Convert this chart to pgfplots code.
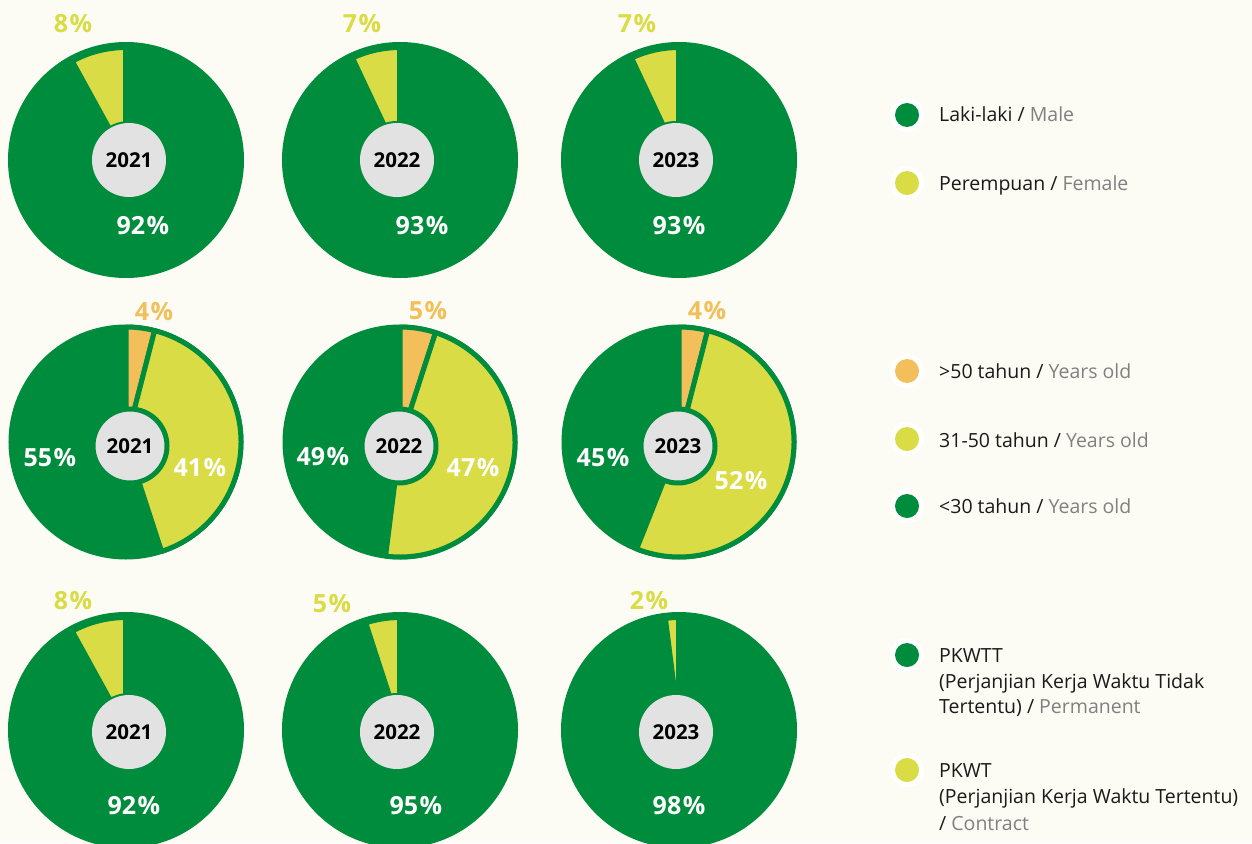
\documentclass[border=0pt]{standalone}
\usepackage{fontspec}
\setmainfont{Open Sans}
\usepackage{pgfplots}
\usepackage{pgfplotstable}
\pgfplotsset{compat=1.18}
\definecolor{pgreen}{HTML}{008C3D}
\definecolor{pyellow}{HTML}{D9DC45}
\definecolor{porange}{HTML}{F2BF5B}
\definecolor{pgray}{HTML}{E2E2E2}
\definecolor{bgc}{HTML}{FCFCF5}
\definecolor{lgray}{HTML}{808080}
\definecolor{ltext}{HTML}{1A1A1A}

\pgfplotstableread{
year male female
2021 92 8
2022 93 7
2023 93 7
}\gendertab
\pgfplotstableread{
year over50 mid under30
2021 4 41 55
2022 5 47 49
2023 4 52 45
}\agetab
\pgfplotstableread{
year permanent contract
2021 92 8
2022 95 5
2023 98 2
}\statustab

\newcommand\getv[4]{\pgfplotstablegetelem{#2}{#3}\of{#1}\edef#4{\pgfplotsretval}}
% cx, cy, start angle, signed percent, radius, fill, line width
\newcommand\pieslice[7]{%
  \pgfmathsetmacro\psend{#3+3.6*(#4)}%
  \edef\tmp{\noexpand\filldraw[fill=#6,draw=pgreen,line width=#7pt,line join=round] (axis cs:#1,#2) -- ++(#3:#5pt) arc[start angle=#3,end angle=\psend,radius=#5pt] -- cycle;}\tmp}
\newcommand\txt[4]{\edef\tmp{\noexpand\node[#3] at (axis cs:#1,#2) {#4};}\tmp}
\newcommand\pc{\noexpand\kern1.5pt\noexpand\%}
% gender-type pie: cx cy gx gy value year
\newcommand\gpie[6]{%
  \edef\tmp{\noexpand\fill[pgreen] (axis cs:#1,#2) circle[radius=118pt];}\tmp
  \pieslice{#1}{#2}{90}{#5}{113}{pyellow}{6}%
  \edef\tmp{\noexpand\fill[pgreen] (axis cs:#3,#4) circle[radius=39pt];}\tmp
  \edef\tmp{\noexpand\fill[pgray] (axis cs:#3,#4) circle[radius=37pt];}\tmp
  \txt{#3}{#4}{yr}{#6}}
% age pie: cx cy gx gy over50 mid year
\newcommand\apie[7]{%
  \edef\tmp{\noexpand\filldraw[fill=pgreen,draw=pgreen,line width=5pt] (axis cs:#1,#2) circle[radius=115pt];}\tmp
  \pgfmathsetmacro\sB{90-3.6*#5}%
  \pieslice{#1}{#2}{90}{-#5}{115}{porange}{5}%
  \pieslice{#1}{#2}{\sB}{-#6}{115}{pyellow}{5}%
  \edef\tmp{\noexpand\filldraw[fill=pgray,draw=pgreen,line width=5pt] (axis cs:#3,#4) circle[radius=37pt];}\tmp
  \txt{#3}{#4}{yr}{#7}}

\begin{document}
\begin{tikzpicture}[
  pct/.style={font=\fontsize{25}{30}\selectfont\bfseries, inner sep=0pt, anchor=center},
  yr/.style={font=\fontsize{20.5}{24}\selectfont\bfseries, text=black, inner sep=0pt, anchor=center},
  lg/.style={font=\fontsize{19.5}{24}\selectfont, text=ltext, inner sep=0pt, anchor=base west}]
\useasboundingbox (0,0) rectangle (1252pt,843pt);
\clip (0,0) rectangle (1252pt,843pt);
\fill[bgc] (0,0) rectangle (1252pt,843pt);
\begin{axis}[hide axis, x=1pt, y=1pt, xmin=0, xmax=1252, ymin=0, ymax=843,
  y dir=reverse, at={(0,0)}, anchor=south west, clip=false]

% ---- row 1: gender
\getv{\gendertab}{0}{female}\vf \getv{\gendertab}{0}{male}\vm \getv{\gendertab}{0}{year}\vy
\gpie{126}{160}{129}{160}{\vf}{\vy}
\txt{73}{24}{pct,text=pyellow}{\vf\pc}
\txt{143}{226}{pct,text=white}{\vm\pc}
\getv{\gendertab}{1}{female}\vf \getv{\gendertab}{1}{male}\vm \getv{\gendertab}{1}{year}\vy
\gpie{400}{160}{397}{160}{\vf}{\vy}
\txt{362}{24}{pct,text=pyellow}{\vf\pc}
\txt{422}{226}{pct,text=white}{\vm\pc}
\getv{\gendertab}{2}{female}\vf \getv{\gendertab}{2}{male}\vm \getv{\gendertab}{2}{year}\vy
\gpie{679}{160}{676}{160}{\vf}{\vy}
\txt{637}{24}{pct,text=pyellow}{\vf\pc}
\txt{679}{226}{pct,text=white}{\vm\pc}

% ---- row 2: age
\getv{\agetab}{0}{over50}\va \getv{\agetab}{0}{mid}\vb \getv{\agetab}{0}{under30}\vc \getv{\agetab}{0}{year}\vy
\apie{126}{442}{130}{446}{\va}{\vb}{\vy}
\txt{154}{312}{pct,text=porange}{\va\pc}
\txt{50}{458}{pct,text=white}{\vc\pc}
\txt{200}{468}{pct,text=white}{\vb\pc}
\getv{\agetab}{1}{over50}\va \getv{\agetab}{1}{mid}\vb \getv{\agetab}{1}{under30}\vc \getv{\agetab}{1}{year}\vy
\apie{400}{442}{399}{446}{\va}{\vb}{\vy}
\txt{428}{311}{pct,text=porange}{\va\pc}
\txt{323}{457}{pct,text=white}{\vc\pc}
\txt{473}{468}{pct,text=white}{\vb\pc}
\getv{\agetab}{2}{over50}\va \getv{\agetab}{2}{mid}\vb \getv{\agetab}{2}{under30}\vc \getv{\agetab}{2}{year}\vy
\apie{679}{442}{678}{446}{\va}{\vb}{\vy}
\txt{707}{311}{pct,text=porange}{\va\pc}
\txt{603}{458}{pct,text=white}{\vc\pc}
\txt{741}{481}{pct,text=white}{\vb\pc}

% ---- row 3: employment status
\getv{\statustab}{0}{contract}\vf \getv{\statustab}{0}{permanent}\vm \getv{\statustab}{0}{year}\vy
\gpie{126}{730}{129}{732}{\vf}{\vy}
\txt{73}{601}{pct,text=pyellow}{\vf\pc}
\txt{134}{806}{pct,text=white}{\vm\pc}
\getv{\statustab}{1}{contract}\vf \getv{\statustab}{1}{permanent}\vm \getv{\statustab}{1}{year}\vy
\gpie{400}{730}{397}{732}{\vf}{\vy}
\txt{332}{604}{pct,text=pyellow}{\vf\pc}
\txt{416}{806}{pct,text=white}{\vm\pc}
\getv{\statustab}{2}{contract}\vf \getv{\statustab}{2}{permanent}\vm \getv{\statustab}{2}{year}\vy
\gpie{679}{730}{676}{732}{\vf}{\vy}
\txt{649}{601}{pct,text=pyellow}{\vf\pc}
\txt{679}{806}{pct,text=white}{\vm\pc}

% ---- legends
\fill[white] (axis cs:907,115) circle[radius=17pt]; \fill[pgreen] (axis cs:907,115) circle[radius=12pt];
\node[lg] at (axis cs:939,121) {Laki-laki / \textcolor{lgray}{Male}};
\fill[white] (axis cs:907,183) circle[radius=17pt]; \fill[pyellow] (axis cs:907,183) circle[radius=12pt];
\node[lg] at (axis cs:939,190) {Perempuan / \textcolor{lgray}{Female}};

\fill[white] (axis cs:907,371) circle[radius=17pt]; \fill[porange] (axis cs:907,371) circle[radius=12pt];
\node[lg] at (axis cs:939,378) {>50 tahun / \textcolor{lgray}{Years old}};
\fill[white] (axis cs:907,439) circle[radius=17pt]; \fill[pyellow] (axis cs:907,439) circle[radius=12pt];
\node[lg] at (axis cs:939,447) {31-50 tahun / \textcolor{lgray}{Years old}};
\fill[white] (axis cs:907,506) circle[radius=17pt]; \fill[pgreen] (axis cs:907,506) circle[radius=12pt];
\node[lg] at (axis cs:939,513) {<30 tahun / \textcolor{lgray}{Years old}};

\fill[white] (axis cs:907,655) circle[radius=17pt]; \fill[pgreen] (axis cs:907,655) circle[radius=12pt];
\node[lg] at (axis cs:939,662) {PKWTT};
\node[lg] at (axis cs:939,688) {(Perjanjian Kerja Waktu Tidak};
\node[lg] at (axis cs:939,713) {Tertentu) / \textcolor{lgray}{Permanent}};
\fill[white] (axis cs:907,770) circle[radius=17pt]; \fill[pyellow] (axis cs:907,770) circle[radius=12pt];
\node[lg] at (axis cs:939,777) {PKWT};
\node[lg] at (axis cs:939,803) {(Perjanjian Kerja Waktu Tertentu)};
\node[lg] at (axis cs:939,830) {/ \textcolor{lgray}{Contract}};
\end{axis}
\end{tikzpicture}
\end{document}
